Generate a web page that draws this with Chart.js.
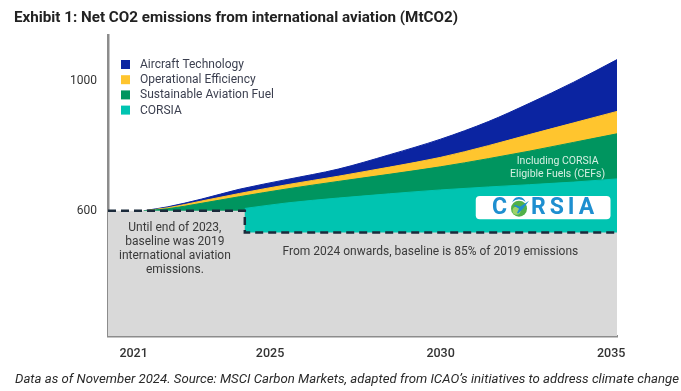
<!DOCTYPE html>
<html>
<head>
<meta charset="utf-8">
<script src="https://cdn.jsdelivr.net/npm/chart.js@4.4.1/dist/chart.umd.min.js"></script>
<style>
  body { margin: 0; background: #fff; }
  #wrap { width: 681px; height: 391px; }
</style>
</head>
<body>
<div id="wrap"><canvas id="aviationChart"></canvas></div>
<script>
// Net CO2 emissions from international aviation (MtCO2), cumulative tops of each wedge
const yearsAbove = [2021.3, 2022, 2023, 2024.1, 2025.5, 2027, 2028.5, 2030, 2031.4, 2032.6, 2033.9, 2035.2];
const aircraftTop = [600, 612, 636, 666, 696, 728, 772, 820, 874, 930, 995, 1066];
const operationalTop = [600, 609, 630, 653, 680, 706, 734, 764, 800, 834, 870, 906];
const safTop = [600, 606, 623, 643, 667, 690, 712, 735, 760, 783, 810, 837];

const corsiaYears = [2024.26, 2025.5, 2027, 2028.5, 2030, 2031.4, 2032.6, 2033.9, 2035.2];
const corsiaTop = [607, 624, 639, 652, 664, 673, 680, 688, 698];

// baseline: 2019 level until end of 2023, then 85% of it
const baselineYears = [2020.25, 2024.26, 2024.26, 2035.2];
const baselineValues = [600, 600, 533, 533];

const xTicks = [2021, 2025, 2030, 2035];
const yTicks = [600, 1000];

const TITLE = 'Exhibit 1: Net CO2 emissions from international aviation (MtCO2)';
const SOURCE = 'Data as of November 2024. Source: MSCI Carbon Markets, adapted from ICAO\u2019s initiatives to address climate change';

const toPoints = (xs, ys) => xs.map((x, i) => ({ x: x, y: ys[i] }));

const COLORS = {
    aircraft: '#0b24a1',
    operational: '#ffc52e',
    saf: '#00955f',
    corsia: '#00c4b1',
    baseline: '#d9d9d9',
    dash: '#1b2a3b',
    text: '#3a3a3a'
};

function area(label, xs, ys, color) {
    return {
        label: label,
        data: toPoints(xs, ys),
        backgroundColor: color,
        borderColor: color,
        borderWidth: 1,
        pointRadius: 0,
        fill: 'start',
        cubicInterpolationMode: 'monotone'
    };
}

// title + source line, drawn without width squeezing
const headerFooter = {
    id: 'headerFooter',
    afterDraw(chart) {
        const ctx = chart.ctx;
        ctx.save();
        ctx.textBaseline = 'middle';
        ctx.textAlign = 'left';
        ctx.fillStyle = '#222';
        ctx.font = 'bold 15.2px Roboto';
        ctx.fillText(TITLE, 14, 18);
        ctx.fillStyle = '#2a2a2a';
        ctx.font = 'italic 13.2px Roboto';
        ctx.fillText(SOURCE, 15, 380);
        ctx.restore();
    }
};

// legend drawn inside the plot, top left
const insideLegend = {
    id: 'insideLegend',
    afterDraw(chart) {
        const ctx = chart.ctx;
        const items = chart.data.datasets.filter(d => d.inLegend).reverse();
        ctx.save();
        ctx.font = '12px Roboto';
        ctx.textBaseline = 'middle';
        items.forEach((d, i) => {
            const y = 65 + i * 15.2;
            ctx.fillStyle = d.backgroundColor;
            ctx.fillRect(121, y - 5, 9, 9);
            ctx.fillStyle = '#3b3f4f';
            ctx.fillText(d.label, 140, y);
        });
        ctx.restore();
    }
};

// text notes and the CORSIA badge
const notes = {
    id: 'notes',
    afterDatasetsDraw(chart) {
        const ctx = chart.ctx;
        const xs = chart.scales.x, ys = chart.scales.y;
        const px = v => xs.getPixelForValue(v);
        const py = v => ys.getPixelForValue(v);
        ctx.save();
        ctx.textAlign = 'center';
        ctx.textBaseline = 'middle';

        ctx.fillStyle = COLORS.text;
        ctx.font = '12px Roboto';
        const left = ['Until end of 2023,', 'baseline was 2019', 'international aviation', 'emissions.'];
        left.forEach((t, i) => ctx.fillText(t, px(2022.21), py(600) + 17.5 + i * 14));
        ctx.fillText('From 2024 onwards, baseline is 85% of 2019 emissions', px(2029.7), py(533) + 19);

        ctx.fillStyle = '#d4efe2';
        ctx.font = '10.5px Roboto';
        ctx.fillText('Including CORSIA', px(2033.43), py(752));
        ctx.fillText('Eligible Fuels (CEFs)', px(2033.43), py(713));

        // badge
        const bx = px(2031.03), bw = px(2034.98) - bx;
        const by = py(645), bh = py(574) - by;
        ctx.fillStyle = '#ffffff';
        ctx.beginPath();
        ctx.roundRect(bx, by, bw, bh, 4);
        ctx.fill();

        ctx.font = 'bold 23px Roboto';
        ctx.letterSpacing = '4px';
        ctx.textAlign = 'left';
        const word = 'CORSIA';
        const wordW = ctx.measureText(word).width - 4;
        const tx = bx + (bw - wordW) / 2;
        const ty = by + bh / 2 + 1;
        ctx.fillStyle = '#1e8fd0';
        ctx.fillText(word, tx, ty);
        // globe over the O
        const oStart = tx + ctx.measureText('C').width;
        const oW = ctx.measureText('O').width - 4;
        const gx = oStart + oW / 2, gy = ty;
        ctx.fillStyle = '#ffffff';
        ctx.beginPath();
        ctx.arc(gx, gy, 9.5, 0, Math.PI * 2);
        ctx.fill();
        ctx.fillStyle = '#52b048';
        ctx.beginPath();
        ctx.arc(gx, gy, 8, 0, Math.PI * 2);
        ctx.fill();
        ctx.fillStyle = '#9fd36a';
        ctx.beginPath();
        ctx.arc(gx - 2.5, gy + 2, 4, 0, Math.PI * 2);
        ctx.fill();
        // little plane
        ctx.fillStyle = '#1e8fd0';
        ctx.beginPath();
        ctx.moveTo(gx + 10, gy - 8);
        ctx.lineTo(gx + 1, gy - 2);
        ctx.lineTo(gx - 4, gy - 4);
        ctx.lineTo(gx - 5, gy - 3);
        ctx.lineTo(gx, gy);
        ctx.lineTo(gx - 2, gy + 4);
        ctx.lineTo(gx - 1, gy + 5);
        ctx.lineTo(gx + 4, gy);
        ctx.closePath();
        ctx.fill();
        ctx.restore();
    }
};

Chart.defaults.font.family = 'Roboto';
Chart.defaults.color = COLORS.text;

const ctxAviation = document.getElementById('aviationChart').getContext('2d');
const aviationChart = new Chart(ctxAviation, {
    type: 'line',
    data: {
        datasets: [
            {
                label: 'Baseline',
                data: toPoints(baselineYears, baselineValues),
                backgroundColor: COLORS.baseline,
                borderColor: COLORS.dash,
                borderWidth: 2.5,
                borderDash: [8, 5],
                pointRadius: 0,
                tension: 0,
                fill: 'start'
            },
            Object.assign(area('CORSIA', corsiaYears, corsiaTop, COLORS.corsia), { inLegend: true }),
            Object.assign(area('Sustainable Aviation Fuel', yearsAbove, safTop, COLORS.saf), { inLegend: true }),
            Object.assign(area('Operational Efficiency', yearsAbove, operationalTop, COLORS.operational), { inLegend: true }),
            Object.assign(area('Aircraft Technology', yearsAbove, aircraftTop, COLORS.aircraft), { inLegend: true })
        ]
    },
    options: {
        responsive: true,
        maintainAspectRatio: false,
        animation: false,
        layout: { padding: { left: 14, right: 64, top: 35, bottom: 19 } },
        plugins: {
            legend: { display: false },
            tooltip: { enabled: false },
            title: { display: false }
        },
        scales: {
            x: {
                type: 'linear',
                min: 2020.25,
                max: 2035.17,
                grid: { display: false, drawTicks: false },
                border: { display: true, color: '#8c8c8c', width: 2.5 },
                afterBuildTicks: s => { s.ticks = xTicks.map(v => ({ value: v })); },
                afterFit: s => { s.height = 36; },
                ticks: {
                    padding: 10,
                    color: '#333',
                    font: { size: 12.5, weight: '500' },
                    callback: v => String(v)
                }
            },
            y: {
                min: 215,
                max: 1140,
                grid: { display: false, drawTicks: false },
                border: { display: true, color: '#8c8c8c', width: 2.5 },
                afterBuildTicks: s => { s.ticks = yTicks.map(v => ({ value: v })); },
                afterFit: s => { s.width = 94; },
                ticks: {
                    padding: 11,
                    color: '#333',
                    font: { size: 12 },
                    callback: v => String(v)
                }
            }
        }
    },
    plugins: [notes, insideLegend, headerFooter]
});
</script>
</body>
</html>
